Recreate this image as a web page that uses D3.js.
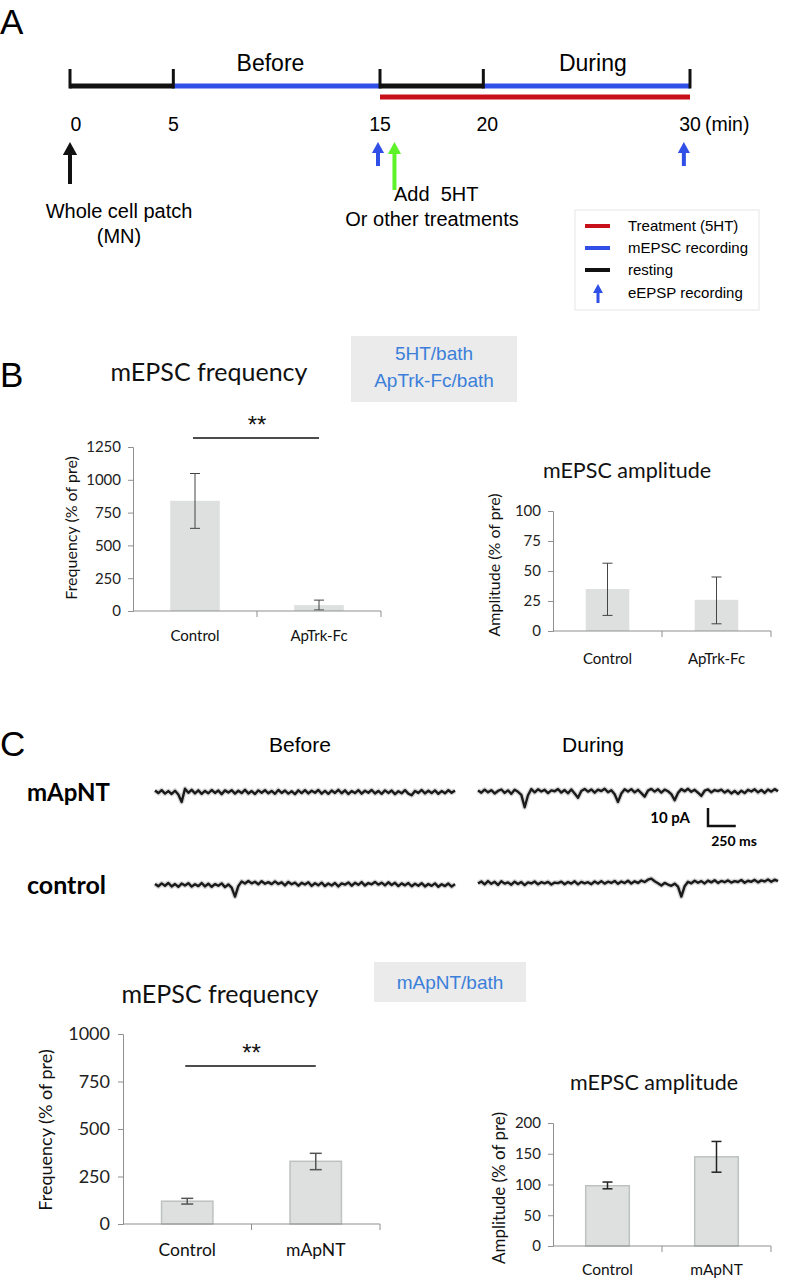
<!DOCTYPE html>
<html>
<head>
<meta charset="utf-8">
<script src="https://cdn.jsdelivr.net/npm/d3@7"></script>
<style>
  body { margin: 0; background: #fff; }
  svg { display: block; }
  .arial { font-family: "Liberation Sans", Arial, sans-serif; }
  .narrow { font-family: "Liberation Sans Narrow", "Liberation Sans", Arial, sans-serif; }
  .cal { font-family: Lato, "Open Sans", sans-serif; }
  .axis path, .axis line { stroke: #8f8f8f; }
  .axis text { fill: #222; }
</style>
</head>
<body>
<div id="fig"></div>
<script>
// ---- panel A: protocol timeline (minutes)
var timeTicks = [0, 5, 15, 20, 30];
var restingSpans = [[0, 5], [15, 20]];
var recordingSpans = [[5, 15], [20, 30]];
var treatmentSpans = [[15, 30]];
var phaseLabels = [{name: 'Before', t: 9.7}, {name: 'During', t: 25.3}];
var eEPSPTimes = [15, 29.8];
var patchTime = 0;
var addTime = 15.7;

// ---- panel B: 5HT/bath vs ApTrk-Fc/bath
var bGroups = ['Control', 'ApTrk-Fc'];
var bFreqMean = [840, 45];
var bFreqLo = [630, 8];
var bFreqHi = [1048, 83];
var bFreqTicks = [0, 250, 500, 750, 1000, 1250];
var bAmpMean = [35, 26];
var bAmpLo = [13, 6];
var bAmpHi = [56.5, 45];
var bAmpTicks = [0, 25, 50, 75, 100];

// ---- panel C: mApNT/bath
var cGroups = ['Control', 'mApNT'];
var cFreqMean = [120, 330];
var cFreqLo = [105, 286];
var cFreqHi = [135, 372];
var cFreqTicks = [0, 250, 500, 750, 1000];
var cAmpMean = [98, 145];
var cAmpLo = [93, 120];
var cAmpHi = [104, 170];
var cAmpTicks = [0, 50, 100, 150, 200];

// ---- example mEPSC traces (pA, 30 ms per sample)
var sampleMs = 30;
var traceMApNTBefore = [0.8,-0.6,1.0,-0.9,0.5,-1.1,0.7,-1.4,-5.5,1.8,-0.4,1.2,-0.8,0.9,-1.0,0.6,-0.7,1.1,-0.5,0.8,-1.2,0.9,-0.3,1.0,-0.9,0.7,-0.6,1.2,-0.8,0.5,-1.1,0.9,-0.4,1.0,-0.7,0.6,-1.0,1.1,-0.5,0.8,-0.9,0.4,-1.2,0.9,-0.6,1.0,-0.8,0.7,-0.4,1.1,-0.9,0.6,-1.0,0.8,-0.5,1.2,-0.7,0.9,-1.1,0.5,-0.6,1.0,-0.9,0.7,-0.4,1.1,-0.8,0.6,-1.0,0.9,-0.5,0.8,-1.2,0.4,-0.7,1.0,-0.9,-1.8,0.6,-0.5,1.1,-0.8,0.7,-0.6,0.9,-1.0,0.5,-0.7,1.0,-0.4,0.8];
var traceMApNTDuring = [0.9,-0.4,1.3,-0.2,1.0,-0.8,0.6,1.4,-0.5,0.9,-1.0,1.2,0.1,-1.6,-8.5,-1.8,1.6,-0.2,1.5,0.3,1.2,-0.6,0.9,0.4,1.6,-0.3,1.1,-0.7,1.4,-0.9,-3.2,0.6,1.7,0.2,1.4,-0.4,1.3,0.5,1.8,-0.1,1.0,-1.3,-5.5,-0.8,1.5,0.3,1.6,-0.2,1.2,-0.6,-2.6,0.8,1.7,0.2,1.5,-0.3,1.3,0.4,-1.2,-4.6,-0.5,1.6,0.4,1.8,0.1,1.2,-0.4,-2.2,0.7,1.4,-0.2,1.1,0.5,1.3,-0.3,0.9,-0.8,0.6,-1.0,0.7,-0.6,1.2,0.3,1.5,-0.2,1.1,-0.5,1.4,0.2,1.6,0.4];
var traceControlBefore = [0.6,-0.7,0.9,-0.4,1.1,-0.8,0.5,-1.0,0.8,-0.3,1.0,-0.9,0.4,-0.6,1.1,-0.8,0.7,-1.0,0.5,-0.4,0.9,-1.2,0.3,-1.5,-6.5,-0.6,2.0,0.8,2.2,0.9,1.8,0.4,2.1,0.7,1.6,0.5,2.0,0.6,1.5,-0.2,1.7,0.4,1.3,-0.4,1.2,0.3,1.5,-0.5,1.0,-0.2,1.3,-0.6,0.8,-0.3,1.1,-0.8,0.9,0.2,1.4,-0.4,1.2,0.1,1.6,-0.3,1.1,0.4,1.7,0.2,1.3,-0.2,1.5,0.0,1.2,-0.6,0.9,-0.2,1.1,-0.7,0.7,-0.4,1.0,-0.8,0.6,-0.5,0.9,-1.0,0.4,-0.6,0.8,-0.9,0.5];
var traceControlDuring = [0.3,1.4,-0.2,1.6,0.1,1.2,-0.5,1.5,0.2,0.9,-0.4,1.3,0.0,1.1,-0.6,0.9,0.3,1.4,-0.2,1.0,0.4,1.2,-0.3,0.8,0.5,1.3,-0.1,1.1,0.2,1.5,-0.2,1.2,0.4,1.0,-0.1,1.4,0.3,1.6,0.2,1.3,0.6,1.7,0.1,1.4,0.5,1.8,0.3,1.5,0.6,1.9,1.1,2.4,3.0,1.5,0.4,-0.8,0.6,-0.3,-1.0,0.2,-1.5,-7.0,-1.2,1.2,0.4,1.8,0.7,1.6,0.3,1.9,0.9,2.1,0.6,1.7,1.0,2.0,0.8,1.6,1.1,2.2,0.7,1.8,1.2,2.3,0.9,2.0,1.4,2.5,1.2,2.4,1.6];
var scaleBarPA = 10;
var scaleBarMs = 250;

var RED = '#c8101a', BLUE = '#2f4fe6', GREEN = '#5ef22a', TXTBLUE = '#3b7fda';

var svg = d3.select('#fig').append('svg')
  .attr('width', 796)
  .attr('height', 1280);

svg.append('rect').attr('width', 796).attr('height', 1280).attr('fill', '#fff');

// ================= A =================
svg.append('text').attr('class', 'arial')
  .attr('x', 0).attr('y', 34).attr('font-size', 35).text('A');

var t = d3.scaleLinear().domain([0, 30]).range([70, 690]);
var lineY = 86, redY = 97;

function spans(data, color, y) {
  svg.append('g').selectAll('line').data(data).enter()
    .append('line')
    .attr('x1', function(d) { return t(d[0]); })
    .attr('x2', function(d) { return t(d[1]); })
    .attr('y1', y).attr('y2', y)
    .attr('stroke', color)
    .attr('stroke-width', 5);
}
spans(restingSpans, '#111', lineY);
spans(recordingSpans, BLUE, lineY);
spans(treatmentSpans, RED, redY);

svg.append('g').selectAll('line').data(timeTicks).enter()
  .append('line')
  .attr('x1', function(d) { return t(d); })
  .attr('x2', function(d) { return t(d); })
  .attr('y1', 69).attr('y2', lineY + 2.5)
  .attr('stroke', '#111').attr('stroke-width', 3);

svg.append('g').selectAll('text').data(phaseLabels).enter()
  .append('text').attr('class', 'arial')
  .attr('x', function(d) { return t(d.t); })
  .attr('y', 71)
  .attr('text-anchor', 'middle')
  .attr('font-size', 23)
  .text(function(d) { return d.name; });

svg.append('g').selectAll('text').data(timeTicks).enter()
  .append('text').attr('class', 'arial')
  .attr('x', function(d) { return t(d) + (d === 0 ? 6 : d === 20 ? 4 : 0); })
  .attr('y', 131)
  .attr('text-anchor', 'middle')
  .attr('font-size', 19.5)
  .text(function(d) { return d; });
svg.append('text').attr('class', 'arial')
  .attr('x', t(30) + 15).attr('y', 131)
  .attr('font-size', 19.5).text('(min)');

function arrow(g, x, yTip, yTail, color, w, head) {
  g.append('line')
    .attr('x1', x).attr('x2', x)
    .attr('y1', yTail).attr('y2', yTip + head - 1)
    .attr('stroke', color).attr('stroke-width', w);
  g.append('path')
    .attr('d', 'M' + x + ',' + yTip + 'L' + (x - head * 0.55) + ',' + (yTip + head) +
      'L' + (x + head * 0.55) + ',' + (yTip + head) + 'Z')
    .attr('fill', color);
}
var ga = svg.append('g');
arrow(ga, t(patchTime), 142, 184, '#111', 4, 13);
eEPSPTimes.forEach(function(d) { arrow(ga, t(d) - 2, 142, 166, BLUE, 4, 11); });
arrow(ga, t(addTime), 142, 190, GREEN, 4, 12);

svg.append('text').attr('class', 'arial')
  .attr('x', 119).attr('y', 218).attr('text-anchor', 'middle')
  .attr('font-size', 20).text('Whole cell patch');
svg.append('text').attr('class', 'arial')
  .attr('x', 119).attr('y', 243).attr('text-anchor', 'middle')
  .attr('font-size', 20).text('(MN)');
svg.append('text').attr('class', 'arial')
  .attr('x', 394).attr('y', 201)
  .attr('font-size', 20).attr('xml:space', 'preserve').text('Add  5HT');
svg.append('text').attr('class', 'arial')
  .attr('x', 432).attr('y', 226).attr('text-anchor', 'middle')
  .attr('font-size', 20).text('Or other treatments');

// legend
var leg = svg.append('g').attr('transform', 'translate(575,210)');
leg.append('rect').attr('width', 184).attr('height', 100)
  .attr('fill', '#fff').attr('stroke', '#e6e6e6');
var legItems = [
  {label: 'Treatment (5HT)', color: RED},
  {label: 'mEPSC recording', color: BLUE},
  {label: 'resting', color: '#111'}
];
legItems.forEach(function(d, i) {
  leg.append('line').attr('x1', 10).attr('x2', 35)
    .attr('y1', 16 + i * 22).attr('y2', 16 + i * 22)
    .attr('stroke', d.color).attr('stroke-width', 4);
  leg.append('text').attr('class', 'arial')
    .attr('x', 53).attr('y', 21 + i * 22)
    .attr('font-size', 15).text(d.label);
});
arrow(leg, 23, 74, 93, BLUE, 3, 9);
leg.append('text').attr('class', 'arial')
  .attr('x', 53).attr('y', 88).attr('font-size', 15).text('eEPSP recording');

// ================= B =================
svg.append('text').attr('class', 'arial')
  .attr('x', 0).attr('y', 387).attr('font-size', 35).text('B');

function infoBox(x, y, w, h, lines, base) {
  svg.append('rect').attr('x', x).attr('y', y).attr('width', w).attr('height', h)
    .attr('fill', '#ebebeb');
  lines.forEach(function(s, i) {
    svg.append('text').attr('class', 'arial')
      .attr('x', x + w / 2).attr('y', base + i * 27)
      .attr('text-anchor', 'middle')
      .attr('font-size', 19).attr('fill', TXTBLUE).text(s);
  });
}
infoBox(351, 336, 166, 66, ['5HT/bath', 'ApTrk-Fc/bath'], 360);

function barChart(o) {
  var g = svg.append('g').attr('class', 'cal');
  var x = d3.scaleBand().domain(o.groups).range([o.x0, o.x1]);
  var y = d3.scaleLinear().domain([0, o.ticks[o.ticks.length - 1]]).range([o.y0, o.yTop]);

  g.append('text')
    .attr('x', o.titleX).attr('y', o.titleY)
    .attr('text-anchor', 'middle').attr('font-size', o.titleSize)
    .attr('fill', '#111').text(o.title);

  var bw = x.bandwidth() * 0.4;
  g.selectAll('rect.bar').data(o.groups).enter()
    .append('rect').attr('class', 'bar')
    .attr('x', function(d) { return x(d) + (x.bandwidth() - bw) / 2; })
    .attr('y', function(d, i) { return y(o.mean[i]); })
    .attr('width', bw)
    .attr('height', function(d, i) { return o.y0 - y(o.mean[i]); })
    .attr('fill', '#dde0df')
    .attr('stroke', o.barStroke || 'none')
    .attr('stroke-width', 1.5);

  var ey = g.selectAll('g.err').data(o.groups).enter().append('g').attr('class', 'err')
    .attr('stroke', o.errColor).attr('stroke-width', o.errWidth);
  ey.append('line')
    .attr('x1', function(d) { return x(d) + x.bandwidth() / 2; })
    .attr('x2', function(d) { return x(d) + x.bandwidth() / 2; })
    .attr('y1', function(d, i) { return y(o.lo[i]); })
    .attr('y2', function(d, i) { return y(o.hi[i]); });
  [o.lo, o.hi].forEach(function(arr) {
    ey.append('line')
      .attr('x1', function(d) { return x(d) + x.bandwidth() / 2 - o.cap; })
      .attr('x2', function(d) { return x(d) + x.bandwidth() / 2 + o.cap; })
      .attr('y1', function(d, i) { return y(arr[i]); })
      .attr('y2', function(d, i) { return y(arr[i]); });
  });

  var ya = g.append('g').attr('class', 'axis')
    .attr('transform', 'translate(' + o.x0 + ',0)')
    .call(d3.axisLeft(y).tickValues(o.ticks).tickFormat(d3.format('d'))
      .tickSize(5).tickPadding(o.tickPad || 7));
  ya.selectAll('text').attr('font-size', o.tickSize).attr('font-family', 'Lato, sans-serif');

  var xa = g.append('g').attr('class', 'axis');
  xa.append('line').attr('x1', o.x0).attr('x2', o.x1)
    .attr('y1', o.y0).attr('y2', o.y0).attr('stroke', '#8f8f8f');
  xa.selectAll('line.tk').data(o.groups).enter()
    .append('line').attr('class', 'tk')
    .attr('x1', function(d) { return x(d) + x.bandwidth(); })
    .attr('x2', function(d) { return x(d) + x.bandwidth(); })
    .attr('y1', o.y0).attr('y2', o.y0 + 6).attr('stroke', '#8f8f8f');
  g.selectAll('text.xl').data(o.groups).enter()
    .append('text').attr('class', 'xl')
    .attr('x', function(d) { return x(d) + x.bandwidth() / 2; })
    .attr('y', o.y0 + o.xlabOff)
    .attr('text-anchor', 'middle').attr('font-size', o.xlabSize)
    .attr('fill', '#111').text(function(d) { return d; });

  g.append('text')
    .attr('transform', 'translate(' + o.ylabX + ',' + o.ylabY + ') rotate(-90)')
    .attr('text-anchor', 'middle').attr('font-size', o.ylabSize)
    .attr('fill', '#111').text(o.ylab);

  if (o.sig) {
    var c0 = x(o.groups[0]) + x.bandwidth() / 2, c1 = x(o.groups[1]) + x.bandwidth() / 2;
    g.append('line').attr('x1', c0 - 2).attr('x2', c1)
      .attr('y1', o.sigY).attr('y2', o.sigY)
      .attr('stroke', '#111').attr('stroke-width', 1.3);
    g.append('text').attr('class', 'arial')
      .attr('x', (c0 + c1) / 2).attr('y', o.sigY - 5)
      .attr('text-anchor', 'middle').attr('font-size', 24)
      .attr('fill', '#111').text('**');
  }
}

barChart({
  groups: bGroups, mean: bFreqMean, lo: bFreqLo, hi: bFreqHi, ticks: bFreqTicks,
  x0: 133, x1: 381, y0: 611, yTop: 447,
  title: 'mEPSC frequency', titleX: 209, titleY: 381, titleSize: 25,
  ylab: 'Frequency (% of pre)', ylabX: 77, ylabY: 528, ylabSize: 16,
  tickSize: 15, xlabSize: 15, xlabOff: 30,
  errColor: '#444', errWidth: 1, cap: 5,
  sig: true, sigY: 438
});
barChart({
  groups: bGroups, mean: bAmpMean, lo: bAmpLo, hi: bAmpHi, ticks: bAmpTicks,
  x0: 553, x1: 771, y0: 631, yTop: 511,
  title: 'mEPSC amplitude', titleX: 627, titleY: 478, titleSize: 21.5,
  ylab: 'Amplitude (% of pre)', ylabX: 500, ylabY: 565, ylabSize: 16,
  tickSize: 15, xlabSize: 15, xlabOff: 33,
  errColor: '#444', errWidth: 1, cap: 5
});

// ================= C =================
svg.append('text').attr('class', 'narrow')
  .attr('x', 0).attr('y', 756).attr('font-size', 35).text('C');
svg.append('text').attr('class', 'narrow')
  .attr('x', 300).attr('y', 752).attr('text-anchor', 'middle')
  .attr('font-size', 21).text('Before');
svg.append('text').attr('class', 'narrow')
  .attr('x', 593).attr('y', 752).attr('text-anchor', 'middle')
  .attr('font-size', 21).text('During');
svg.append('text').attr('class', 'cal')
  .attr('x', 27).attr('y', 801).attr('font-size', 24).attr('font-weight', 700).text('mApNT');
svg.append('text').attr('class', 'cal')
  .attr('x', 27).attr('y', 894).attr('font-size', 25).attr('font-weight', 700).text('control');

var ms = d3.scaleLinear().domain([0, 2700]).range([0, 300]);
var pA = d3.scaleLinear().domain([0, 10]).range([0, -18]);

function trace(values, left, base) {
  var line = d3.line()
    .x(function(d, i) { return left + ms(i * sampleMs); })
    .y(function(d) { return base + pA(d); });
  svg.append('path').datum(values).attr('d', line)
    .attr('fill', 'none').attr('stroke', '#777').attr('stroke-width', 5)
    .attr('stroke-opacity', 0.3).attr('stroke-linejoin', 'round');
  svg.append('path').datum(values).attr('d', line)
    .attr('fill', 'none').attr('stroke', '#1a1a1a').attr('stroke-width', 2.4)
    .attr('stroke-linejoin', 'round');
}
trace(traceMApNTBefore, 155, 792);
trace(traceMApNTDuring, 478, 792);
trace(traceControlBefore, 155, 885);
trace(traceControlDuring, 478, 884);

// scale bar
var sbX = 708, sbY = 826;
svg.append('path')
  .attr('d', 'M' + sbX + ',' + (sbY + pA(scaleBarPA)) + 'L' + sbX + ',' + sbY +
    'L' + (sbX + ms(scaleBarMs)) + ',' + sbY)
  .attr('fill', 'none').attr('stroke', '#111').attr('stroke-width', 2.5);
svg.append('text').attr('class', 'cal')
  .attr('x', 690).attr('y', 823).attr('text-anchor', 'end')
  .attr('font-size', 15).attr('font-weight', 700).text('10 pA');
svg.append('text').attr('class', 'cal')
  .attr('x', 734).attr('y', 846).attr('text-anchor', 'middle')
  .attr('font-size', 14).attr('font-weight', 700).text('250 ms');

infoBox(374, 962, 152, 40, ['mApNT/bath'], 989);

barChart({
  groups: cGroups, mean: cFreqMean, lo: cFreqLo, hi: cFreqHi, ticks: cFreqTicks,
  x0: 123, x1: 380, y0: 1224, yTop: 1034,
  title: 'mEPSC frequency', titleX: 220, titleY: 1003, titleSize: 25,
  ylab: 'Frequency (% of pre)', ylabX: 52, ylabY: 1130, ylabSize: 18,
  tickSize: 18, tickPad: 8, xlabSize: 17.5, xlabOff: 32,
  errColor: '#555', errWidth: 1.5, cap: 6, barStroke: '#bcc2c0',
  sig: true, sigY: 1066
});
barChart({
  groups: cGroups, mean: cAmpMean, lo: cAmpLo, hi: cAmpHi, ticks: cAmpTicks,
  x0: 553, x1: 771, y0: 1246, yTop: 1123,
  title: 'mEPSC amplitude', titleX: 654, titleY: 1090, titleSize: 21.5,
  ylab: 'Amplitude (% of pre)', ylabX: 505, ylabY: 1188, ylabSize: 17,
  tickSize: 15, xlabSize: 15.5, xlabOff: 29,
  errColor: '#222', errWidth: 1.5, cap: 5, barStroke: '#bcc2c0'
});
</script>
</body>
</html>
